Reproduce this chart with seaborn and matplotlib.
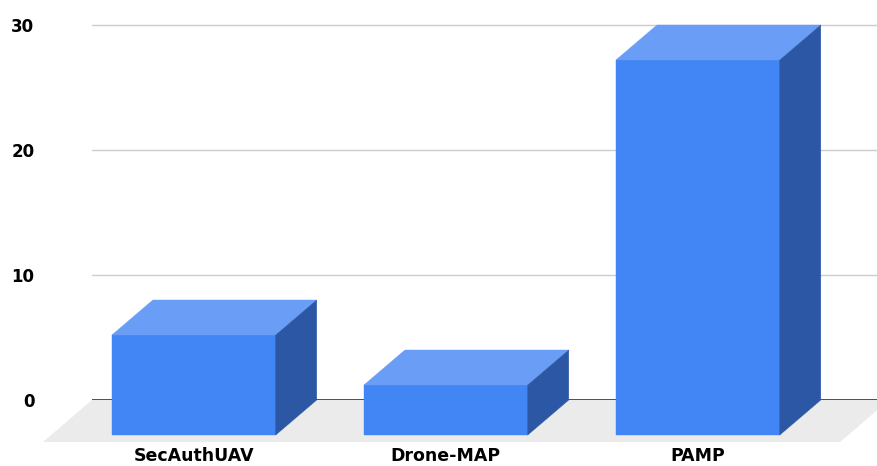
import numpy as np
import pandas as pd
import matplotlib
matplotlib.use("Agg")
import matplotlib.pyplot as plt
import seaborn as sns
from matplotlib.patches import Polygon
from matplotlib.transforms import IdentityTransform

categories = ["SecAuthUAV", "Drone-MAP", "PAMP"]
values = [8, 4, 30]
yticks = [0, 10, 20, 30]

FRONT = "#4285F4"
TOP = "#699DF6"
SIDE = "#2B57A4"
FLOOR = "#EBEBEB"
GRID = "#CCCCCC"

sns.set_theme(style="white")
plt.rcParams['font.family'] = ['DejaVu Sans']

W, H = 877, 466
fig = plt.figure(figsize=(W / 100, H / 100), dpi=100)
ax = fig.add_axes([92 / W, 0, 1 - 92 / W, 1])

df = pd.DataFrame({"cat": categories, "val": values})
sns.barplot(data=df, x="cat", y="val", color=FRONT, width=0.65, saturation=1,
            linewidth=0, ax=ax, zorder=3)

ax.set_ylim(-5.28, 32)
ax.set_xlim(-0.5667, 2.548)
ax.set_yticks(yticks)
ax.set_yticklabels([str(t) for t in yticks], fontsize=12, fontweight="bold", color="black")
ax.tick_params(axis="y", length=0, pad=41.5)
ax.set_xticks([])
ax.set_xlabel("")
ax.set_ylabel("")
for s in ax.spines.values():
    s.set_visible(False)
ax.set_axisbelow(True)
ax.yaxis.grid(True, color=GRID, lw=1)
ax.axhline(0, color="#333333", lw=1.2, zorder=1.5)

T = ax.transData.transform
ident = IdentityTransform()

# floor
fb_l = T((-0.5667, 0))
fb_r = T((2.596, 0))
fd = np.array([-49, -42])
floor = Polygon([fb_l, fb_r, fb_r + fd, fb_l + fd], closed=True, fc=FLOOR, lw=0,
                transform=ident, zorder=1, clip_on=False)
fig.add_artist(floor)

d = np.array([-41, -35])
for p, lab in zip(ax.patches, categories):
    x0, w, h = p.get_x(), p.get_width(), p.get_height()
    bl, br = T((x0, 0)), T((x0 + w, 0))
    tl, tr = T((x0, h)), T((x0 + w, h))
    p.set_visible(False)
    faces = [
        ([bl + d, br + d, tr + d, tl + d], FRONT),
        ([tl + d, tr + d, tr, tl], TOP),
        ([br + d, br, tr, tr + d], SIDE),
    ]
    for verts, c in faces:
        fig.add_artist(Polygon(verts, closed=True, fc=c, ec=c, lw=0.3,
                               transform=ident, zorder=4, clip_on=False))
    cx = (bl[0] + br[0]) / 2 + d[0]
    fig.text(cx, 1, lab, transform=ident, ha="center", va="bottom",
             fontsize=12.5, fontweight="bold", color="black")

fig.savefig("out.png", dpi=100)
